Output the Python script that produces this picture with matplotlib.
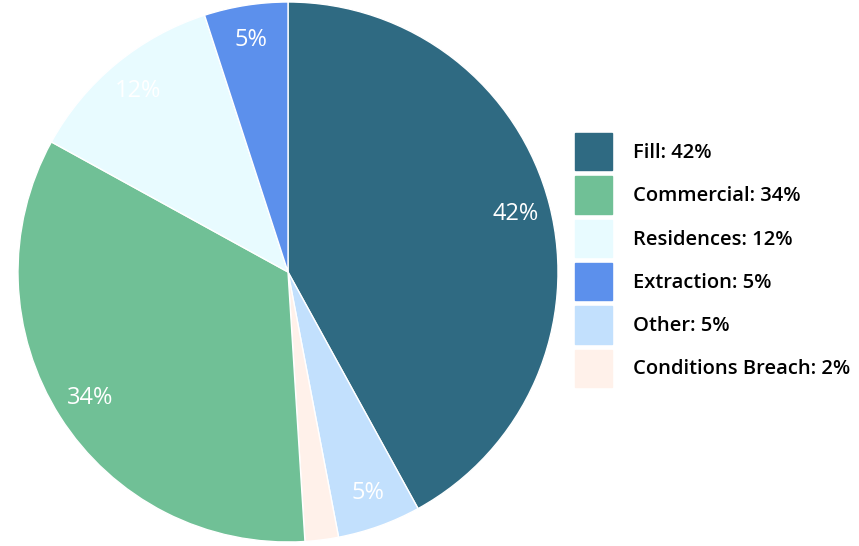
import matplotlib
matplotlib.use('Agg')
from matplotlib import pyplot as plt
import numpy as np

plt.rcParams['font.family'] = ['Open Sans', 'DejaVu Sans']

# legend order
labels = ['Fill', 'Commercial', 'Residences', 'Extraction', 'Other', 'Conditions Breach']
values = [42, 34, 12, 5, 5, 2]
colors = ['#2f6a82', '#70c096', '#e8fbff', '#5c90ec', '#c2e0fd', '#fff1ea']

# order of the slices, clockwise from 12 o'clock
pie_order = ['Fill', 'Other', 'Conditions Breach', 'Commercial', 'Residences', 'Extraction']

fig = plt.figure(figsize=(8.59, 5.46), dpi=100)
ax = fig.add_axes([18 / 859, 4 / 546, 540 / 859, 540 / 546])

idx = [labels.index(n) for n in pie_order]
pv = [values[i] for i in idx]
pc = [colors[i] for i in idx]

wedges, texts = ax.pie(pv, colors=pc, startangle=90, counterclock=False,
                       radius=1, wedgeprops=dict(edgecolor='white', linewidth=1))

# percent labels (2% slice has none)
for w, v in zip(wedges, pv):
    if v < 3:
        continue
    ang = np.deg2rad((w.theta1 + w.theta2) / 2)
    r = 0.87
    ax.text(r * np.cos(ang), r * np.sin(ang), f'{v}%', color='white',
            fontsize=17, ha='center', va='center')

ax.set_xlim(-1, 1)
ax.set_ylim(-1, 1)
ax.set_aspect('equal')
ax.axis('off')

# legend
handles = [plt.Rectangle((0, 0), 1, 1, color=c) for c in colors]
leg_labels = [f'{n}: {v}%' for n, v in zip(labels, values)]
fig.legend(handles, leg_labels, loc='center left', bbox_to_anchor=(575 / 859, 1 - 260 / 546),
           frameon=False, prop={'size': 14.5, 'weight': 'semibold'},
           handlelength=1.85, handleheight=2.47,
           labelspacing=0.3, handletextpad=1.05, borderpad=0, borderaxespad=0)

fig.savefig('out.png', dpi=100)
